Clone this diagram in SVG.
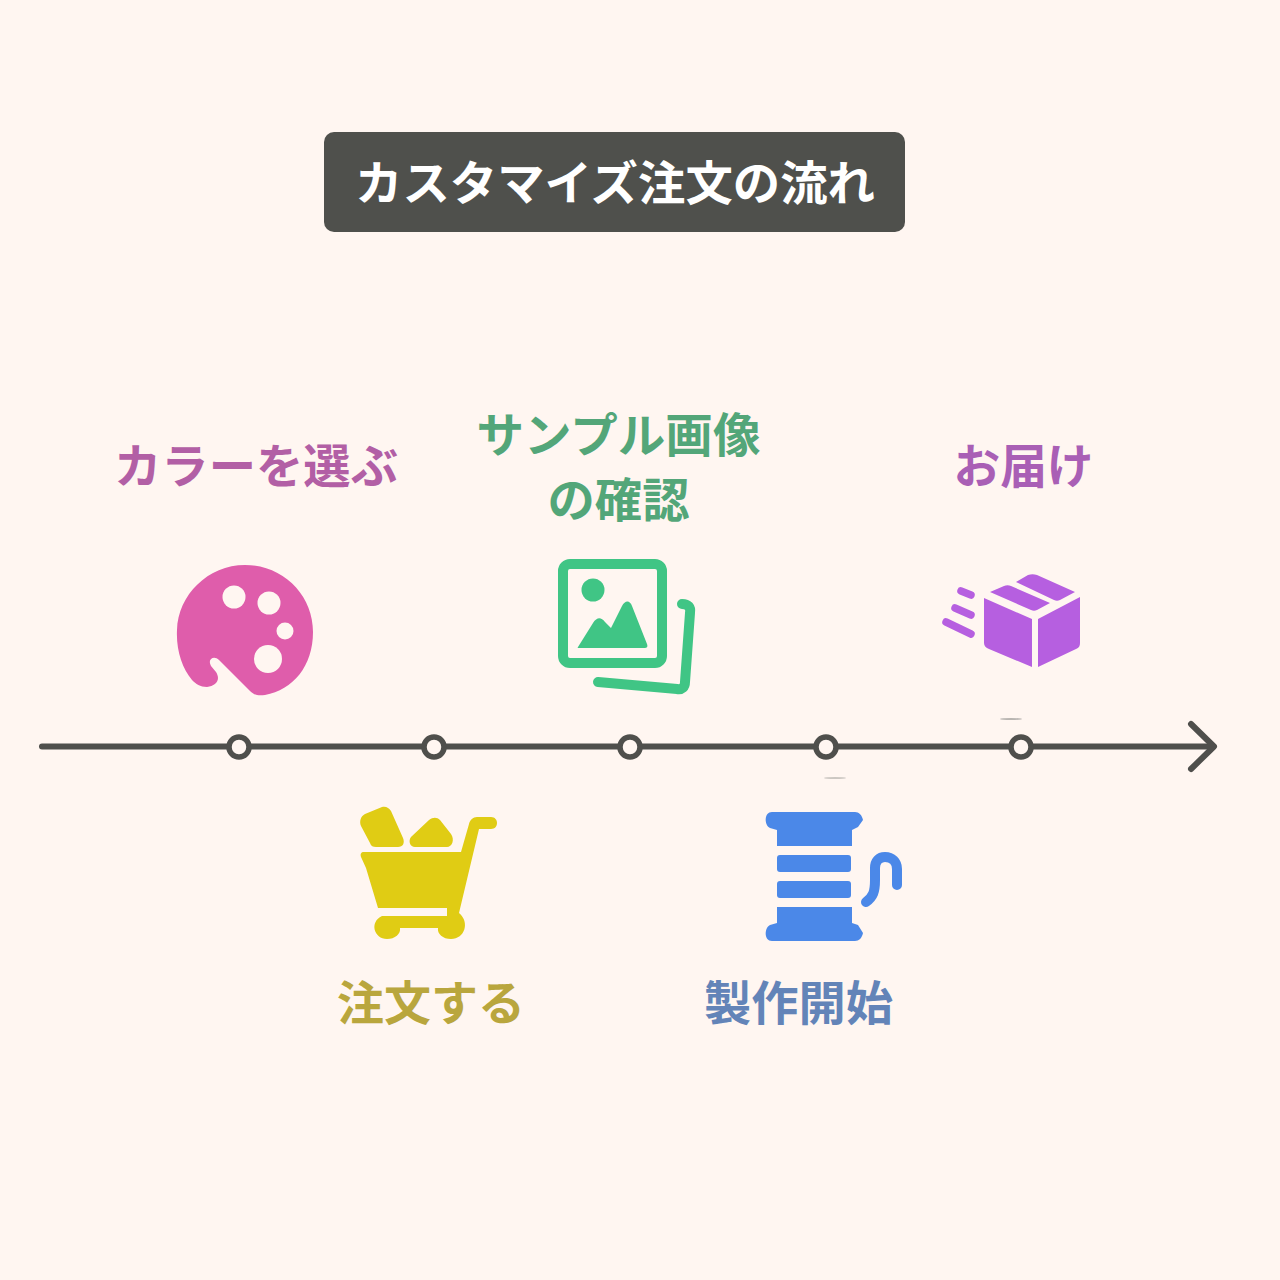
<svg xmlns="http://www.w3.org/2000/svg" width="1280" height="1280" viewBox="0 0 1280 1280">
<style>
text{font-family:"Noto Sans CJK JP","Noto Sans",sans-serif;font-weight:700;text-anchor:middle;font-size:47px}
.dot{fill:#fff6f1;stroke:#4f4f4c;stroke-width:5.500}
.bg{fill:#fff6f1}
</style>
<rect width="1280" height="1280" class="bg"/>
<g id="title"><rect x="324" y="132" width="581" height="100" rx="10" fill="#4f504c"/><text x="615" y="200" fill="#fff" textLength="520" lengthAdjust="spacingAndGlyphs">カスタマイズ注文の流れ</text></g>
<g id="connectors" fill="none" stroke="#4f4f4c" stroke-width="6" stroke-linecap="round" stroke-linejoin="round">
<path d="M42 746.500H1212"/><path d="M1191 724L1214 746.500L1191 769"/>
</g>
<g id="step1">
<text x="256" y="483" fill="#b25fa5" textLength="284" lengthAdjust="spacingAndGlyphs">カラーを選ぶ</text>
<path fill="#df5dab" d="M245 565C283 565 313 595 313 632C313 666 293 690 265 695C258 696 254 695 250 691L219 660C214 655 207 659 211 666L216 672C221 680 216 686 207 687C200 687 196 684 192 680C182 668 176 650 177 630C178 595 208 565 245 565Z"/>
<g class="bg"><circle cx="234" cy="597" r="11.500"/><circle cx="269" cy="603" r="11.500"/><circle cx="285" cy="631" r="8.500"/><circle cx="268" cy="659" r="14"/></g>
<circle class="dot" cx="239" cy="747" r="10"/>
</g>
<g id="step2">
<text x="431" y="1020" fill="#b9a63d" textLength="188" lengthAdjust="spacingAndGlyphs">注文する</text>
<path fill="#e0cc14" d="M365 814L382 807C386 806 389 808 391 811L403 838C405 843 403 847 398 847H376C373 847 371 846 370 843L361 826C359 821 361 816 365 814ZM429 820C433 817 437 817 440 820L451 834C455 840 452 847 447 847H415C410 847 408 841 411 837Z"/>
<path fill="#e0cc14" d="M364 852H461L469 824C470 820 473 817 477 817H491C499 817 499 829 491 829H479L459 913C470 922 465 939 451 939C443 939 437 934 438 928H400C401 934 395 939 387 939C374 939 369 922 382 916H447V908H378L366 868L361 857C360 854 361 852 364 852Z"/>
<circle class="dot" cx="434" cy="747" r="10"/>
</g>
<g id="step3">
<text x="618.500" y="452" fill="#53a679" textLength="284" lengthAdjust="spacingAndGlyphs">サンプル画像</text>
<text x="618.500" y="517" fill="#53a679" textLength="142" lengthAdjust="spacingAndGlyphs">の確認</text>
<rect x="563" y="564" width="99" height="99" rx="7" fill="none" stroke="#40c585" stroke-width="10"/>
<circle cx="593" cy="590" r="11.500" fill="#40c585"/>
<path fill="#40c585" d="M578 647L593 623C597 617 601 617 605 622L611 628L622 606C625 600 630 600 632 606L647 644C648 647 647 648 644 648H580C578 648 577 648 578 647Z"/>
<path fill="none" stroke="#40c585" stroke-width="10" stroke-linecap="round" d="M682 604C688 604 691 607 690 613L685 682C685 687 682 690 677 689L598 682"/>
<circle class="dot" cx="630" cy="747" r="10"/>
</g>
<g id="step4">
<text x="798.500" y="1020" fill="#6384b8" textLength="189" lengthAdjust="spacingAndGlyphs">製作開始</text>
<g fill="#4b88e8">
<path d="M772 812H855C859 812 862 815 863 820L858 827L852 830V846H777V830L770 828C764 825 764 812 772 812Z"/>
<rect x="777" y="855" width="74" height="17" rx="3"/>
<rect x="777" y="881" width="74" height="17" rx="3"/>
<path d="M777 907H852V923L858 925L863 933C862 938 859 941 855 941H772C764 941 764 928 770 925L777 923Z"/>
</g>
<path fill="none" stroke="#4b88e8" stroke-width="10" stroke-linecap="round" d="M866 902C873 897 875 892 875 880V868C875 861 879 857 885 857C892 857 897 862 897 869V885"/>
<circle class="dot" cx="826" cy="747" r="10"/>
<ellipse cx="835" cy="778" rx="11" ry="1" fill="#ccc7c2"/>
</g>
<g id="step5">
<text x="1023.500" y="483" fill="#a95fb5" textLength="140" lengthAdjust="spacingAndGlyphs">お届け</text>
<g fill="#b65fe0">
<path d="M984 598L1032 619V667L989 649C986 648 984 646 984 643Z"/>
<path d="M1038 619L1080 597V643C1080 646 1079 648 1076 649L1038 667Z"/>
<path d="M990 592L1004 586C1006 585 1009 585 1011 586L1050 603L1037 610C1035 611 1033 611 1031 610Z"/>
<path d="M1016 582L1028 575C1031 574 1034 574 1037 575L1075 592L1060 600C1058 601 1056 601 1054 600Z"/>
</g>
<path fill="none" stroke="#b65fe0" stroke-width="7.500" stroke-linecap="round" d="M961 591L971 595M955 608L971 615M946 622L971 634"/>
<circle class="dot" cx="1021" cy="747" r="10"/>
<ellipse cx="1011" cy="719" rx="11" ry="1" fill="#b9b5b1"/>
</g>
</svg>
